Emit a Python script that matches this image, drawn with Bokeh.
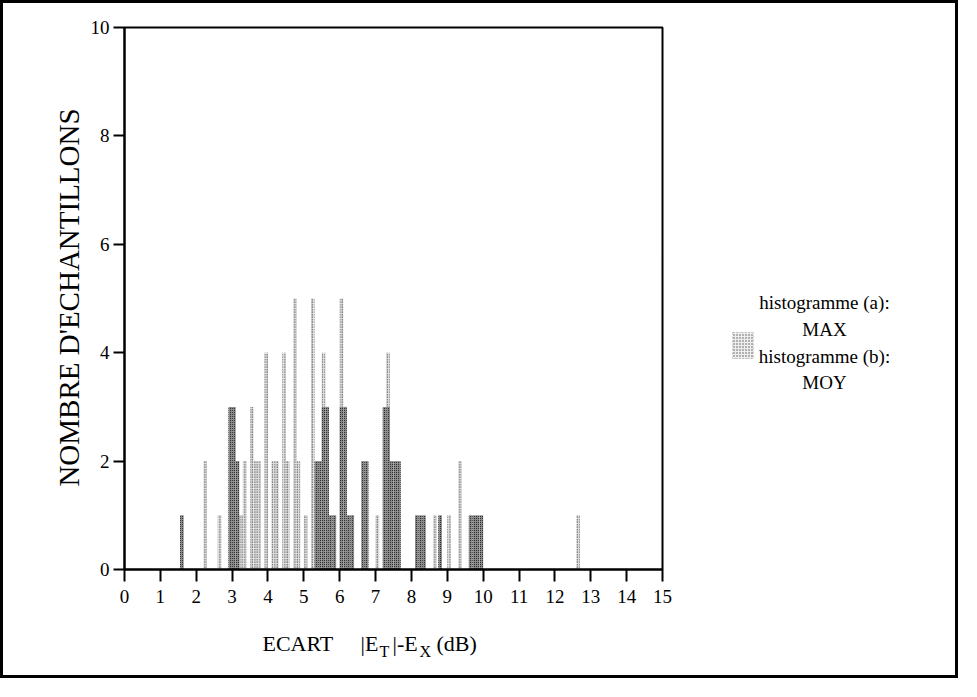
from bokeh.plotting import figure
from bokeh.models import Label, BoxAnnotation, FixedTicker, Range1d
from bokeh.embed import file_html
from bokeh.resources import INLINE

# ---- data ----
# histogramme (a): MAX  (light, dotted bars)
max_centers = [2.25, 2.65, 3.25, 3.35, 3.55, 3.65, 3.75, 3.95, 4.15, 4.25, 4.45,
               4.55, 4.75, 4.85, 5.05, 5.25, 5.55, 6.05, 6.35, 7.05, 7.35,
               8.65, 9.05, 9.35, 12.65]
max_counts = [2, 1, 1, 2, 3, 2, 2, 4, 2, 2, 4,
              2, 5, 2, 1, 5, 4, 5, 1, 1, 4,
              1, 1, 2, 1]
# histogramme (b): MOY  (dark, stippled bars)
moy_centers = [1.6, 2.95, 3.05, 3.15, 5.35, 5.45, 5.55, 5.65, 5.75, 5.85,
               6.05, 6.15, 6.25, 6.35, 6.65, 6.75, 7.25, 7.35, 7.45, 7.55,
               7.65, 8.15, 8.25, 8.35, 8.8, 9.65, 9.75, 9.85, 9.95]
moy_counts = [1, 3, 3, 2, 2, 2, 3, 3, 1, 1,
              3, 3, 1, 1, 2, 2, 3, 3, 2, 2,
              2, 1, 1, 1, 1, 1, 1, 1, 1]
bin_width = 0.1
x_min, x_max = 0, 15
y_min, y_max = 0, 10
x_ticks = list(range(0, 16))
y_ticks = [0, 2, 4, 6, 8, 10]

SERIF = "Liberation Serif"

# ---- page geometry (pixels on the page) ----
OFF = 11                      # 8px page margin + 3px border
W, H = 958, 678               # canvas size (border drawn outside it)
PX0, PX15 = 132, 670          # x = 0 and x = 15
PY0, PY10 = 577, 35           # y = 0 and y = 10

sx = (PX15 - PX0) / (x_max - x_min)
sy = (PY0 - PY10) / (y_max - y_min)


def ex(px):
    return x_min + (px - PX0) / sx


def ey(py):
    return y_min + (PY0 - py) / sy


# the data frame covers the whole canvas so that every text can be drawn in it
p = figure(width=W, height=H,
           x_range=Range1d(ex(OFF), ex(OFF + W)), y_range=Range1d(ey(OFF + H), ey(OFF)),
           output_backend="svg", toolbar_location=None,
           min_border_left=0, min_border_right=0,
           min_border_top=0, min_border_bottom=0)
p.styles = {"border": "3px solid black"}

p.xgrid.visible = False
p.ygrid.visible = False
p.outline_line_color = None
p.background_fill_color = "white"
p.border_fill_color = "white"

# bars
p.vbar(x=max_centers, top=max_counts, bottom=0, width=bin_width,
       fill_color="#e0e0e0", line_color=None,
       hatch_pattern="dot", hatch_color="#222222", hatch_scale=2.5, hatch_weight=1)
p.vbar(x=moy_centers, top=moy_counts, bottom=0, width=bin_width,
       fill_color="#8a8a8a", line_color=None,
       hatch_pattern="dot", hatch_color="#111111", hatch_scale=2, hatch_weight=1)

# plot box (top and right edges of the chart area)
p.add_layout(BoxAnnotation(left=x_min, right=x_max, bottom=y_min, top=y_max,
                           fill_alpha=0, line_color="black", line_width=2, line_alpha=1))

# axes
for ax in (p.xaxis[0], p.yaxis[0]):
    ax.axis_line_width = 2
    ax.axis_line_color = "black"
    ax.major_tick_line_width = 2
    ax.major_tick_line_color = "black"
    ax.minor_tick_line_color = None
    ax.major_tick_in = 0
    ax.major_label_text_font = SERIF
    ax.major_label_text_font_size = "19px"
    ax.major_label_text_color = "black"

p.xaxis.ticker = FixedTicker(ticks=x_ticks)
p.xaxis.bounds = (x_min, x_max)
p.xaxis.fixed_location = y_min
p.xaxis.major_tick_out = 12
p.xaxis.major_label_standoff = 8

p.yaxis.ticker = FixedTicker(ticks=y_ticks)
p.yaxis.bounds = (y_min, y_max)
p.yaxis.fixed_location = x_min
p.yaxis.major_tick_out = 11
p.yaxis.major_label_standoff = 4

# y-axis title
p.add_layout(Label(x=ex(76), y=ey(305), text="NOMBRE D'ECHANTILLONS",
                   angle=90, angle_units="deg", text_font=SERIF,
                   text_font_size="29px", text_align="center",
                   text_baseline="middle", text_color="black"))

# x-axis title with subscripts, assembled from text pieces
pieces = [("ECART", 270, 651, "22px"), ("|E", 368, 651, "22px"), ("T", 387, 659, "16px"),
          ("|-E", 400, 651, "22px"), ("X", 427, 659, "16px"), ("(dB)", 444, 651, "22px")]
for txt, px, py, fs in pieces:
    p.add_layout(Label(x=ex(px), y=ey(py), text=txt, text_font=SERIF,
                       text_font_size=fs, text_align="left",
                       text_baseline="alphabetic", text_color="black"))

# legend
legend_lines = [("histogramme (a):", 310), ("MAX", 337), ("histogramme (b):", 364), ("MOY", 390)]
for txt, py in legend_lines:
    p.add_layout(Label(x=ex(832), y=ey(py), text=txt, text_font=SERIF,
                       text_font_size="19px", text_align="center",
                       text_baseline="middle", text_color="black"))

p.add_layout(BoxAnnotation(left=ex(740), right=ex(761), top=ey(340), bottom=ey(366),
                           fill_color="#eeeeee", fill_alpha=1,
                           hatch_pattern="dot", hatch_color="#555555", hatch_scale=3,
                           line_color="#666666", line_dash="2 2", line_width=1))

open("out.html", "w").write(file_html(p, INLINE, title="Histogramme"))
